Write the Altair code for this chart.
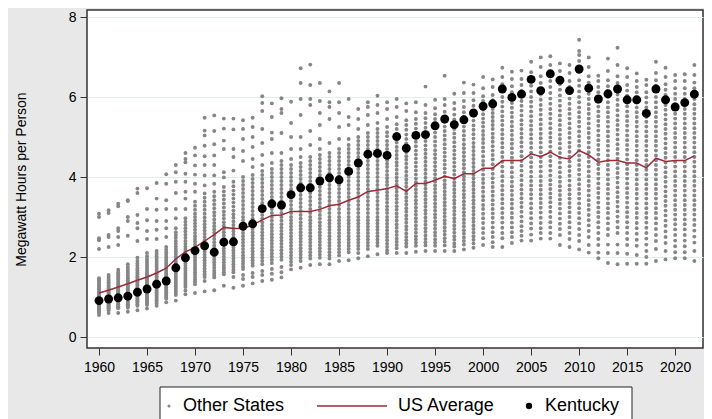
import altair as alt
import pandas as pd

years = list(range(1960, 2023))

kentucky = [0.91, 0.95, 0.98, 1.02, 1.12, 1.2, 1.32, 1.4, 1.73, 1.98,
            2.16, 2.28, 2.12, 2.37, 2.38, 2.77, 2.83, 3.21, 3.33, 3.3,
            3.56, 3.73, 3.73, 3.9, 3.98, 3.93, 4.14, 4.35, 4.57, 4.59,
            4.54, 5.01, 4.72, 5.04, 5.06, 5.28, 5.45, 5.31, 5.43, 5.6,
            5.77, 5.83, 6.2, 5.99, 6.07, 6.44, 6.16, 6.58, 6.42, 6.16,
            6.7, 6.22, 5.95, 6.08, 6.2, 5.93, 5.93, 5.59, 6.2, 5.93,
            5.75, 5.86, 6.07]

us_average = [1.1, 1.17, 1.25, 1.33, 1.42, 1.5, 1.6, 1.72, 1.95, 2.13,
              2.24, 2.4, 2.56, 2.74, 2.71, 2.71, 2.8, 2.93, 3.04, 3.05,
              3.14, 3.14, 3.14, 3.19, 3.28, 3.32, 3.42, 3.5, 3.64, 3.67,
              3.71, 3.78, 3.64, 3.84, 3.84, 3.92, 4.02, 3.96, 4.08, 4.08,
              4.22, 4.22, 4.41, 4.41, 4.41, 4.58, 4.51, 4.62, 4.49, 4.45,
              4.66, 4.55, 4.37, 4.41, 4.41, 4.35, 4.35, 4.23, 4.47, 4.39,
              4.41, 4.41, 4.53]

other_states = [
    [3.08, 3.0, 2.47, 2.42, 2.2, 1.47, 1.42, 1.38, 1.34, 1.3, 1.27, 1.23, 1.2, 1.17, 1.14, 1.1, 1.07, 1.04, 1.01, 0.98, 0.96, 0.93, 0.9, 0.88, 0.85, 0.83, 0.8, 0.78, 0.76, 0.74, 0.72, 0.7, 0.68, 0.66, 0.63, 0.6, 0.55],
    [3.17, 3.1, 2.55, 2.5, 2.25, 1.55, 1.5, 1.45, 1.41, 1.37, 1.33, 1.29, 1.25, 1.22, 1.18, 1.15, 1.12, 1.09, 1.06, 1.03, 1.0, 0.97, 0.94, 0.92, 0.89, 0.87, 0.84, 0.82, 0.79, 0.77, 0.74, 0.72, 0.7, 0.67, 0.6],
    [3.33, 3.27, 2.72, 2.65, 2.5, 2.3, 1.68, 1.62, 1.57, 1.52, 1.47, 1.43, 1.39, 1.35, 1.31, 1.27, 1.24, 1.2, 1.17, 1.14, 1.11, 1.08, 1.05, 1.02, 0.99, 0.96, 0.93, 0.9, 0.88, 0.85, 0.82, 0.8, 0.77, 0.74, 0.72, 0.6],
    [3.42, 3.4, 3.0, 2.9, 2.53, 1.82, 1.75, 1.7, 1.65, 1.6, 1.55, 1.5, 1.46, 1.42, 1.38, 1.34, 1.3, 1.26, 1.22, 1.19, 1.15, 1.12, 1.09, 1.06, 1.03, 1.0, 0.97, 0.94, 0.91, 0.88, 0.85, 0.82, 0.79, 0.76, 0.73, 0.63],
    [3.71, 3.6, 3.05, 2.85, 2.72, 2.4, 1.98, 1.9, 1.84, 1.78, 1.72, 1.67, 1.62, 1.57, 1.52, 1.48, 1.44, 1.4, 1.36, 1.32, 1.28, 1.24, 1.2, 1.17, 1.14, 1.1, 1.07, 1.04, 1.01, 0.98, 0.95, 0.92, 0.89, 0.86, 0.82, 0.78, 0.67],
    [3.72, 3.2, 2.92, 2.65, 2.45, 2.1, 2.02, 1.95, 1.9, 1.85, 1.8, 1.75, 1.7, 1.65, 1.6, 1.56, 1.52, 1.48, 1.44, 1.4, 1.36, 1.32, 1.28, 1.24, 1.2, 1.16, 1.12, 1.08, 1.04, 1.0, 0.97, 0.94, 0.9, 0.87, 0.83, 0.8, 0.71],
    [3.85, 3.46, 3.18, 2.9, 2.68, 2.45, 2.15, 2.08, 2.02, 1.96, 1.9, 1.85, 1.8, 1.75, 1.7, 1.65, 1.6, 1.56, 1.52, 1.48, 1.44, 1.4, 1.36, 1.32, 1.28, 1.24, 1.2, 1.16, 1.12, 1.08, 1.04, 1.0, 0.96, 0.92, 0.88, 0.84, 0.78],
    [4.07, 3.83, 3.42, 3.2, 2.9, 2.72, 2.5, 2.25, 2.18, 2.12, 2.06, 2.0, 1.95, 1.9, 1.85, 1.8, 1.75, 1.7, 1.65, 1.6, 1.56, 1.52, 1.48, 1.44, 1.4, 1.36, 1.32, 1.28, 1.24, 1.2, 1.16, 1.12, 1.08, 1.04, 1.0, 0.96, 0.87],
    [4.3, 4.12, 3.88, 3.6, 3.2, 2.97, 2.72, 2.62, 2.55, 2.48, 2.4, 2.33, 2.26, 2.2, 2.14, 2.08, 2.02, 1.96, 1.9, 1.85, 1.8, 1.75, 1.7, 1.65, 1.6, 1.55, 1.5, 1.45, 1.4, 1.35, 1.3, 1.25, 1.2, 1.15, 1.1, 1.05, 0.91],
    [4.6, 4.45, 4.37, 4.08, 3.88, 3.63, 3.46, 3.2, 2.97, 2.88, 2.8, 2.72, 2.64, 2.56, 2.48, 2.4, 2.33, 2.26, 2.2, 2.14, 2.08, 2.02, 1.96, 1.9, 1.84, 1.78, 1.72, 1.66, 1.6, 1.55, 1.5, 1.45, 1.4, 1.35, 1.3, 1.25, 1.16, 1.07],
    [4.73, 4.54, 4.29, 4.06, 3.83, 3.63, 3.38, 3.28, 3.18, 3.08, 3.0, 2.92, 2.84, 2.76, 2.68, 2.6, 2.52, 2.45, 2.38, 2.31, 2.24, 2.17, 2.1, 2.04, 1.98, 1.92, 1.86, 1.8, 1.74, 1.68, 1.62, 1.56, 1.5, 1.44, 1.38, 1.32, 1.1],
    [5.48, 5.16, 5.04, 4.78, 4.52, 4.3, 4.04, 3.79, 3.59, 3.48, 3.38, 3.28, 3.18, 3.08, 2.99, 2.9, 2.82, 2.74, 2.66, 2.58, 2.5, 2.42, 2.34, 2.27, 2.2, 2.13, 2.06, 1.99, 1.92, 1.85, 1.78, 1.71, 1.64, 1.57, 1.5, 1.4, 1.14],
    [5.54, 5.15, 4.82, 4.54, 4.3, 4.04, 3.83, 3.63, 3.52, 3.42, 3.32, 3.22, 3.12, 3.03, 2.94, 2.85, 2.77, 2.69, 2.61, 2.53, 2.45, 2.37, 2.29, 2.22, 2.15, 2.08, 2.01, 1.94, 1.87, 1.8, 1.73, 1.66, 1.6, 1.55, 1.49, 1.17],
    [5.46, 5.21, 4.91, 4.7, 4.12, 3.99, 3.75, 3.64, 3.54, 3.44, 3.34, 3.24, 3.14, 3.05, 2.96, 2.87, 2.78, 2.7, 2.62, 2.54, 2.46, 2.38, 2.3, 2.22, 2.15, 2.08, 2.01, 1.94, 1.87, 1.8, 1.74, 1.68, 1.62, 1.57, 1.28],
    [5.46, 5.19, 4.7, 4.5, 4.16, 3.88, 3.77, 3.66, 3.56, 3.46, 3.36, 3.26, 3.16, 3.07, 2.98, 2.89, 2.8, 2.72, 2.64, 2.56, 2.48, 2.4, 2.32, 2.24, 2.17, 2.1, 2.03, 1.96, 1.89, 1.82, 1.75, 1.68, 1.62, 1.5, 1.23],
    [5.42, 5.2, 4.95, 4.65, 4.4, 4.0, 3.9, 3.8, 3.7, 3.6, 3.5, 3.4, 3.3, 3.2, 3.1, 3.0, 2.92, 2.84, 2.76, 2.68, 2.6, 2.52, 2.44, 2.36, 2.28, 2.2, 2.12, 2.04, 1.97, 1.9, 1.83, 1.76, 1.7, 1.55, 1.45, 1.28],
    [5.48, 5.25, 5.0, 4.75, 4.45, 4.25, 4.05, 3.95, 3.85, 3.75, 3.65, 3.55, 3.45, 3.35, 3.25, 3.15, 3.05, 2.96, 2.87, 2.78, 2.7, 2.62, 2.54, 2.46, 2.38, 2.3, 2.22, 2.14, 2.06, 1.99, 1.92, 1.85, 1.78, 1.6, 1.5, 1.34],
    [6.02, 5.85, 5.65, 5.2, 4.85, 4.55, 4.3, 4.15, 4.05, 3.95, 3.85, 3.75, 3.65, 3.55, 3.45, 3.35, 3.25, 3.15, 3.05, 2.96, 2.87, 2.78, 2.7, 2.62, 2.54, 2.46, 2.38, 2.3, 2.22, 2.14, 2.06, 1.98, 1.9, 1.82, 1.65, 1.55, 1.4],
    [5.84, 5.5, 5.11, 4.95, 4.6, 4.35, 4.2, 4.1, 4.0, 3.9, 3.8, 3.7, 3.6, 3.5, 3.4, 3.3, 3.2, 3.1, 3.0, 2.91, 2.82, 2.73, 2.65, 2.57, 2.49, 2.41, 2.33, 2.25, 2.17, 2.09, 2.01, 1.93, 1.85, 1.7, 1.58, 1.43],
    [5.97, 5.7, 5.6, 5.1, 4.6, 4.4, 4.3, 4.2, 4.1, 4.0, 3.9, 3.8, 3.7, 3.6, 3.5, 3.4, 3.3, 3.2, 3.1, 3.0, 2.91, 2.82, 2.73, 2.65, 2.57, 2.49, 2.41, 2.33, 2.25, 2.17, 2.09, 2.01, 1.93, 1.75, 1.62, 1.49],
    [5.88, 5.35, 5.0, 4.7, 4.45, 4.3, 4.2, 4.1, 4.0, 3.9, 3.8, 3.7, 3.6, 3.5, 3.4, 3.3, 3.2, 3.1, 3.0, 2.92, 2.84, 2.76, 2.68, 2.6, 2.52, 2.44, 2.36, 2.28, 2.2, 2.12, 2.04, 1.96, 1.88, 1.8, 1.69],
    [6.72, 6.35, 5.95, 5.55, 5.0, 4.7, 4.5, 4.35, 4.25, 4.15, 4.05, 3.95, 3.85, 3.75, 3.65, 3.55, 3.45, 3.35, 3.25, 3.15, 3.05, 2.96, 2.87, 2.78, 2.7, 2.62, 2.54, 2.46, 2.38, 2.3, 2.22, 2.14, 2.06, 1.98, 1.9, 1.73],
    [6.81, 6.3, 5.95, 5.8, 5.15, 4.8, 4.5, 4.4, 4.3, 4.2, 4.1, 4.0, 3.9, 3.8, 3.7, 3.6, 3.5, 3.4, 3.3, 3.2, 3.1, 3.0, 2.92, 2.84, 2.76, 2.68, 2.6, 2.52, 2.44, 2.36, 2.28, 2.2, 2.12, 2.04, 1.96, 1.8],
    [6.35, 5.9, 5.6, 5.3, 4.95, 4.7, 4.55, 4.45, 4.35, 4.25, 4.15, 4.05, 3.95, 3.85, 3.75, 3.65, 3.55, 3.45, 3.35, 3.25, 3.15, 3.05, 2.96, 2.87, 2.78, 2.7, 2.62, 2.54, 2.46, 2.38, 2.3, 2.22, 2.14, 2.06, 1.98, 1.82],
    [6.14, 5.87, 5.75, 5.45, 4.85, 4.6, 4.5, 4.4, 4.3, 4.2, 4.1, 4.0, 3.9, 3.8, 3.7, 3.6, 3.5, 3.4, 3.3, 3.2, 3.1, 3.0, 2.92, 2.84, 2.76, 2.68, 2.6, 2.52, 2.44, 2.36, 2.28, 2.2, 2.12, 2.04, 1.96, 1.82],
    [6.35, 5.87, 5.6, 5.25, 4.95, 4.7, 4.6, 4.5, 4.4, 4.3, 4.2, 4.1, 4.0, 3.9, 3.8, 3.7, 3.6, 3.5, 3.4, 3.3, 3.2, 3.1, 3.0, 2.92, 2.84, 2.76, 2.68, 2.6, 2.52, 2.44, 2.36, 2.28, 2.2, 2.12, 2.04, 1.9],
    [5.95, 5.5, 5.3, 4.95, 4.8, 4.7, 4.6, 4.5, 4.4, 4.3, 4.2, 4.1, 4.0, 3.9, 3.8, 3.7, 3.6, 3.5, 3.4, 3.3, 3.2, 3.1, 3.0, 2.92, 2.84, 2.76, 2.68, 2.6, 2.52, 2.44, 2.36, 2.28, 2.2, 2.12, 1.92],
    [5.7, 5.45, 5.2, 5.0, 4.9, 4.8, 4.7, 4.6, 4.5, 4.4, 4.3, 4.2, 4.1, 4.0, 3.9, 3.8, 3.7, 3.6, 3.5, 3.4, 3.3, 3.2, 3.1, 3.0, 2.92, 2.84, 2.76, 2.68, 2.6, 2.52, 2.44, 2.36, 2.28, 2.2, 2.1, 1.97],
    [5.87, 5.75, 5.55, 5.3, 5.1, 5.0, 4.9, 4.8, 4.7, 4.6, 4.5, 4.4, 4.3, 4.2, 4.1, 4.0, 3.9, 3.8, 3.7, 3.6, 3.5, 3.4, 3.3, 3.2, 3.1, 3.0, 2.92, 2.84, 2.76, 2.68, 2.6, 2.52, 2.44, 2.36, 2.28, 2.2, 2.02],
    [6.03, 5.8, 5.6, 5.35, 5.2, 5.1, 5.0, 4.9, 4.8, 4.7, 4.6, 4.5, 4.4, 4.3, 4.2, 4.1, 4.0, 3.9, 3.8, 3.7, 3.6, 3.5, 3.4, 3.3, 3.2, 3.1, 3.0, 2.92, 2.84, 2.76, 2.68, 2.6, 2.52, 2.44, 2.36, 2.28, 2.07],
    [5.87, 5.7, 5.45, 5.25, 5.12, 5.02, 4.9, 4.8, 4.7, 4.6, 4.5, 4.42, 4.33, 4.25, 4.15, 4.05, 3.97, 3.88, 3.8, 3.7, 3.62, 3.53, 3.45, 3.36, 3.27, 3.18, 3.1, 3.0, 2.92, 2.83, 2.75, 2.67, 2.58, 2.5, 2.42, 2.33, 2.25, 2.17, 2.1],
    [5.95, 5.75, 5.5, 5.32, 5.2, 5.08, 4.97, 4.86, 4.75, 4.65, 4.55, 4.46, 4.37, 4.28, 4.18, 4.08, 3.99, 3.9, 3.81, 3.72, 3.63, 3.54, 3.45, 3.36, 3.27, 3.18, 3.09, 3.0, 2.91, 2.82, 2.73, 2.64, 2.55, 2.46, 2.38, 2.3, 2.22, 2.1],
    [5.84, 5.65, 5.42, 5.3, 5.18, 5.06, 4.95, 4.84, 4.73, 4.62, 4.52, 4.43, 4.33, 4.23, 4.13, 4.03, 3.94, 3.85, 3.76, 3.67, 3.58, 3.49, 3.4, 3.31, 3.22, 3.13, 3.04, 2.95, 2.86, 2.77, 2.68, 2.59, 2.5, 2.42, 2.34, 2.26, 2.1],
    [5.87, 5.62, 5.45, 5.33, 5.21, 5.1, 4.99, 4.88, 4.77, 4.66, 4.56, 4.46, 4.36, 4.26, 4.16, 4.06, 3.96, 3.87, 3.78, 3.69, 3.6, 3.51, 3.42, 3.33, 3.24, 3.15, 3.06, 2.97, 2.88, 2.79, 2.7, 2.61, 2.52, 2.44, 2.36, 2.28, 2.13],
    [6.26, 5.8, 5.6, 5.47, 5.35, 5.23, 5.12, 5.01, 4.9, 4.79, 4.68, 4.58, 4.48, 4.38, 4.28, 4.18, 4.08, 3.98, 3.89, 3.8, 3.71, 3.62, 3.53, 3.44, 3.35, 3.26, 3.17, 3.08, 2.99, 2.9, 2.81, 2.72, 2.63, 2.54, 2.45, 2.37, 2.29, 2.15],
    [5.93, 5.72, 5.57, 5.45, 5.33, 5.22, 5.11, 5.0, 4.89, 4.78, 4.67, 4.57, 4.47, 4.37, 4.27, 4.17, 4.07, 3.97, 3.88, 3.79, 3.7, 3.61, 3.52, 3.43, 3.34, 3.25, 3.16, 3.07, 2.98, 2.89, 2.8, 2.71, 2.62, 2.53, 2.44, 2.36, 2.28, 2.15],
    [6.53, 5.95, 5.8, 5.63, 5.5, 5.38, 5.26, 5.15, 5.04, 4.93, 4.82, 4.71, 4.61, 4.51, 4.41, 4.31, 4.21, 4.11, 4.01, 3.91, 3.82, 3.73, 3.64, 3.55, 3.46, 3.37, 3.28, 3.19, 3.1, 3.01, 2.92, 2.83, 2.74, 2.65, 2.56, 2.47, 2.38, 2.29, 2.15],
    [6.08, 5.85, 5.7, 5.56, 5.44, 5.32, 5.2, 5.09, 4.98, 4.87, 4.76, 4.66, 4.56, 4.46, 4.36, 4.26, 4.16, 4.06, 3.96, 3.87, 3.78, 3.69, 3.6, 3.51, 3.42, 3.33, 3.24, 3.15, 3.06, 2.97, 2.88, 2.79, 2.7, 2.61, 2.52, 2.43, 2.34, 2.26, 2.15],
    [6.36, 6.1, 5.9, 5.75, 5.62, 5.5, 5.38, 5.26, 5.15, 5.04, 4.93, 4.82, 4.72, 4.62, 4.52, 4.42, 4.32, 4.22, 4.12, 4.02, 3.93, 3.84, 3.75, 3.66, 3.57, 3.48, 3.39, 3.3, 3.21, 3.12, 3.03, 2.94, 2.85, 2.76, 2.67, 2.58, 2.49, 2.4, 2.31, 2.19],
    [6.31, 6.1, 5.92, 5.78, 5.65, 5.53, 5.41, 5.29, 5.18, 5.07, 4.96, 4.85, 4.75, 4.65, 4.55, 4.45, 4.35, 4.25, 4.15, 4.05, 3.96, 3.87, 3.78, 3.69, 3.6, 3.51, 3.42, 3.33, 3.24, 3.15, 3.06, 2.97, 2.88, 2.79, 2.7, 2.61, 2.52, 2.43, 2.34, 2.23],
    [6.5, 6.22, 6.02, 5.9, 5.8, 5.68, 5.57, 5.46, 5.36, 5.26, 5.15, 5.05, 4.95, 4.85, 4.74, 4.64, 4.52, 4.4, 4.3, 4.18, 4.06, 3.95, 3.85, 3.74, 3.63, 3.52, 3.42, 3.3, 3.2, 3.08, 2.97, 2.85, 2.72, 2.6, 2.47, 2.3],
    [6.44, 6.25, 6.05, 5.92, 5.82, 5.7, 5.6, 5.5, 5.4, 5.3, 5.2, 5.08, 4.98, 4.88, 4.77, 4.66, 4.55, 4.44, 4.32, 4.2, 4.08, 3.97, 3.86, 3.75, 3.64, 3.53, 3.42, 3.31, 3.2, 3.09, 2.98, 2.86, 2.74, 2.62, 2.5, 2.37, 2.25],
    [6.73, 6.5, 6.32, 6.15, 6.0, 5.88, 5.76, 5.64, 5.52, 5.41, 5.3, 5.18, 5.07, 4.96, 4.85, 4.74, 4.62, 4.5, 4.38, 4.26, 4.14, 4.02, 3.9, 3.78, 3.67, 3.56, 3.45, 3.34, 3.22, 3.1, 2.98, 2.86, 2.73, 2.6, 2.47, 2.25],
    [6.63, 6.45, 6.27, 6.12, 5.98, 5.85, 5.73, 5.61, 5.5, 5.38, 5.27, 5.16, 5.05, 4.94, 4.83, 4.72, 4.6, 4.48, 4.36, 4.24, 4.12, 4.0, 3.88, 3.77, 3.66, 3.55, 3.44, 3.33, 3.22, 3.1, 2.98, 2.86, 2.74, 2.62, 2.5, 2.35],
    [6.66, 6.45, 6.3, 6.16, 6.02, 5.9, 5.78, 5.66, 5.54, 5.42, 5.31, 5.2, 5.09, 4.98, 4.87, 4.76, 4.64, 4.52, 4.4, 4.28, 4.16, 4.04, 3.92, 3.8, 3.69, 3.58, 3.47, 3.36, 3.25, 3.13, 3.01, 2.89, 2.77, 2.65, 2.53, 2.41],
    [6.88, 6.62, 6.42, 6.28, 6.14, 6.0, 5.88, 5.76, 5.64, 5.52, 5.4, 5.29, 5.18, 5.07, 4.96, 4.85, 4.73, 4.61, 4.49, 4.37, 4.25, 4.13, 4.01, 3.9, 3.79, 3.68, 3.57, 3.46, 3.34, 3.22, 3.1, 2.97, 2.84, 2.71, 2.56, 2.41],
    [6.99, 6.75, 6.52, 6.35, 6.2, 6.06, 5.93, 5.8, 5.68, 5.56, 5.44, 5.32, 5.2, 5.08, 4.97, 4.86, 4.74, 4.62, 4.5, 4.38, 4.26, 4.14, 4.02, 3.9, 3.79, 3.68, 3.57, 3.46, 3.35, 3.23, 3.11, 2.98, 2.85, 2.72, 2.6, 2.46],
    [7.02, 6.8, 6.56, 6.4, 6.25, 6.1, 5.96, 5.83, 5.7, 5.58, 5.46, 5.34, 5.22, 5.1, 4.99, 4.88, 4.76, 4.64, 4.52, 4.4, 4.28, 4.16, 4.04, 3.92, 3.81, 3.7, 3.59, 3.48, 3.37, 3.25, 3.13, 3.0, 2.87, 2.74, 2.6, 2.46],
    [6.84, 6.65, 6.47, 6.32, 6.18, 6.04, 5.91, 5.78, 5.66, 5.54, 5.42, 5.3, 5.18, 5.06, 4.95, 4.84, 4.72, 4.6, 4.48, 4.36, 4.24, 4.12, 4.0, 3.88, 3.77, 3.66, 3.55, 3.44, 3.33, 3.21, 3.09, 2.96, 2.83, 2.7, 2.55, 2.3],
    [6.8, 6.6, 6.4, 6.25, 6.1, 5.96, 5.83, 5.7, 5.58, 5.46, 5.34, 5.22, 5.1, 4.98, 4.86, 4.75, 4.63, 4.51, 4.39, 4.27, 4.15, 4.03, 3.91, 3.79, 3.68, 3.57, 3.46, 3.35, 3.24, 3.12, 3.0, 2.87, 2.74, 2.6, 2.45, 2.25],
    [7.43, 7.15, 7.05, 6.9, 6.62, 6.42, 6.28, 6.14, 6.0, 5.87, 5.74, 5.62, 5.5, 5.38, 5.26, 5.14, 5.02, 4.9, 4.78, 4.66, 4.54, 4.42, 4.3, 4.18, 4.06, 3.94, 3.82, 3.7, 3.58, 3.46, 3.34, 3.22, 3.1, 2.97, 2.84, 2.7, 2.55, 2.4, 2.19],
    [6.99, 6.75, 6.52, 6.36, 6.22, 6.08, 5.95, 5.82, 5.7, 5.58, 5.46, 5.34, 5.22, 5.1, 4.98, 4.86, 4.74, 4.62, 4.5, 4.38, 4.26, 4.14, 4.02, 3.9, 3.78, 3.66, 3.54, 3.42, 3.3, 3.18, 3.05, 2.92, 2.79, 2.65, 2.5, 2.3, 2.11],
    [6.53, 6.4, 6.25, 6.12, 6.0, 5.88, 5.76, 5.64, 5.52, 5.4, 5.28, 5.16, 5.04, 4.92, 4.8, 4.68, 4.56, 4.44, 4.32, 4.2, 4.08, 3.96, 3.84, 3.72, 3.6, 3.48, 3.36, 3.24, 3.12, 3.0, 2.87, 2.74, 2.6, 2.45, 2.3, 2.11, 1.97],
    [6.96, 6.65, 6.42, 6.27, 6.13, 6.0, 5.87, 5.74, 5.62, 5.5, 5.38, 5.26, 5.14, 5.02, 4.9, 4.78, 4.66, 4.54, 4.42, 4.3, 4.18, 4.06, 3.94, 3.82, 3.7, 3.58, 3.46, 3.34, 3.22, 3.1, 2.97, 2.84, 2.7, 2.55, 2.31, 2.1, 1.85],
    [7.23, 6.8, 6.52, 6.35, 6.2, 6.06, 5.93, 5.8, 5.67, 5.54, 5.42, 5.3, 5.18, 5.06, 4.94, 4.82, 4.7, 4.58, 4.46, 4.34, 4.22, 4.1, 3.98, 3.86, 3.74, 3.62, 3.5, 3.38, 3.26, 3.14, 3.01, 2.88, 2.74, 2.6, 2.31, 2.1, 1.82],
    [6.72, 6.5, 6.3, 6.16, 6.03, 5.9, 5.77, 5.64, 5.52, 5.4, 5.28, 5.16, 5.04, 4.92, 4.8, 4.68, 4.56, 4.44, 4.32, 4.2, 4.08, 3.96, 3.84, 3.72, 3.6, 3.48, 3.36, 3.24, 3.12, 3.0, 2.87, 2.74, 2.6, 2.45, 2.3, 2.08, 1.83],
    [6.59, 6.4, 6.25, 6.12, 5.99, 5.86, 5.74, 5.62, 5.5, 5.38, 5.26, 5.14, 5.02, 4.9, 4.78, 4.66, 4.54, 4.42, 4.3, 4.18, 4.06, 3.94, 3.82, 3.7, 3.58, 3.46, 3.34, 3.22, 3.1, 2.98, 2.85, 2.72, 2.58, 2.43, 2.28, 2.05, 1.83],
    [6.43, 6.3, 6.12, 5.99, 5.86, 5.74, 5.62, 5.5, 5.38, 5.26, 5.14, 5.02, 4.9, 4.78, 4.66, 4.54, 4.42, 4.3, 4.18, 4.06, 3.94, 3.82, 3.7, 3.58, 3.46, 3.34, 3.22, 3.1, 2.98, 2.86, 2.73, 2.6, 2.46, 2.31, 2.15, 2.0, 1.83],
    [6.88, 6.6, 6.42, 6.28, 6.14, 6.0, 5.87, 5.74, 5.62, 5.5, 5.38, 5.26, 5.14, 5.02, 4.9, 4.78, 4.66, 4.54, 4.42, 4.3, 4.18, 4.06, 3.94, 3.82, 3.7, 3.58, 3.46, 3.34, 3.22, 3.1, 2.97, 2.84, 2.7, 2.55, 2.4, 2.2, 1.9],
    [6.73, 6.5, 6.32, 6.18, 6.05, 5.92, 5.8, 5.68, 5.56, 5.44, 5.32, 5.2, 5.08, 4.96, 4.84, 4.72, 4.6, 4.48, 4.36, 4.24, 4.12, 4.0, 3.88, 3.76, 3.64, 3.52, 3.4, 3.28, 3.16, 3.04, 2.91, 2.78, 2.64, 2.5, 2.35, 2.15, 1.94],
    [6.55, 6.4, 6.22, 6.08, 5.95, 5.82, 5.7, 5.58, 5.46, 5.34, 5.22, 5.1, 4.98, 4.86, 4.74, 4.62, 4.5, 4.38, 4.26, 4.14, 4.02, 3.9, 3.78, 3.66, 3.54, 3.42, 3.3, 3.18, 3.06, 2.94, 2.82, 2.69, 2.55, 2.41, 2.27, 2.12, 1.97],
    [6.57, 6.4, 6.22, 6.08, 5.95, 5.82, 5.7, 5.58, 5.46, 5.34, 5.22, 5.1, 4.98, 4.86, 4.74, 4.62, 4.5, 4.38, 4.26, 4.14, 4.02, 3.9, 3.78, 3.66, 3.54, 3.42, 3.3, 3.18, 3.06, 2.94, 2.82, 2.69, 2.55, 2.41, 2.27, 2.12, 1.97],
    [6.8, 6.55, 6.36, 6.22, 6.08, 5.95, 5.82, 5.7, 5.58, 5.46, 5.34, 5.22, 5.1, 4.98, 4.86, 4.74, 4.62, 4.5, 4.38, 4.26, 4.14, 4.02, 3.9, 3.78, 3.66, 3.54, 3.42, 3.3, 3.18, 3.06, 2.93, 2.8, 2.66, 2.51, 2.36, 2.15, 1.9],
]

series_names = ["Other States", "US Average", "Kentucky"]
series_colors = ["#868686", "#9e2a36", "#000000"]

rows = []
for yr, vals in zip(years, other_states):
    for v in vals:
        rows.append({"year": yr, "value": v, "series": series_names[0]})
for yr, v in zip(years, us_average):
    rows.append({"year": yr, "value": v, "series": series_names[1]})
for yr, v in zip(years, kentucky):
    rows.append({"year": yr, "value": v, "series": series_names[2]})
df = pd.DataFrame(rows)

FONT = "Liberation Sans"


def make_legend(x, y, size, stype, label_offset, stroke_width=0):
    return alt.Legend(
        title=None, orient="none", legendX=x, legendY=y, direction="horizontal",
        labelFont=FONT, labelFontSize=18, labelColor="#000000",
        labelOffset=label_offset, padding=0, symbolSize=size, symbolType=stype,
        symbolStrokeWidth=stroke_width, symbolOpacity=1,
    )


x_enc = alt.X("year:Q",
              scale=alt.Scale(domain=[1958.75, 2022.9], nice=False, zero=False),
              axis=alt.Axis(values=list(range(1960, 2021, 5)), format="d", title=None,
                            grid=False, domain=False, tickSize=7, tickColor="#333333",
                            labelPadding=5, labelFont=FONT, labelFontSize=14,
                            labelColor="#000000"))
y_enc = alt.Y("value:Q",
              scale=alt.Scale(domain=[-0.275, 8.175], nice=False, zero=False),
              axis=alt.Axis(values=[0, 2, 4, 6, 8], title="Megawatt Hours per Person",
                            grid=True, gridColor="#e3edf0", domain=False, tickSize=7,
                            tickColor="#333333", labelPadding=4, labelFont=FONT,
                            labelFontSize=14, labelColor="#000000", titleFont=FONT,
                            titleFontSize=14, titleFontWeight="normal",
                            titleColor="#000000", titlePadding=40))

base = alt.Chart(df)

# legend frame (pixel placement of the legend box, like legendX / legendY)
frame = alt.Chart(pd.DataFrame({"k": [0]})).mark_rect(
    fill="#ffffff", stroke="#222222", strokeWidth=1
).encode(
    x=alt.value(73), x2=alt.value(545), y=alt.value(377), y2=alt.value(440)
)

others = base.transform_filter(alt.datum.series == series_names[0]).mark_point(
    filled=True, opacity=1, strokeWidth=0, size=15
).encode(
    x=x_enc, y=y_enc,
    color=alt.Color("series:N",
                    scale=alt.Scale(domain=[series_names[0]], range=[series_colors[0]]),
                    legend=make_legend(73, 387, 10, "circle", 5)),
)

avg = base.transform_filter(alt.datum.series == series_names[1]).mark_line(
    strokeWidth=1.5
).encode(
    x=x_enc, y=y_enc,
    stroke=alt.Stroke("series:N",
                      scale=alt.Scale(domain=[series_names[1]], range=[series_colors[1]]),
                      legend=make_legend(229, 360, 4900, "stroke", 10, 1.5)),
)

ky = base.transform_filter(alt.datum.series == series_names[2]).mark_point(
    filled=True, opacity=1, strokeWidth=0, size=80
).encode(
    x=x_enc, y=y_enc,
    fill=alt.Fill("series:N",
                  scale=alt.Scale(domain=[series_names[2]], range=[series_colors[2]]),
                  legend=make_legend(433, 387, 40, "circle", 7)),
)

chart = alt.layer(frame, others, avg, ky).resolve_scale(
    color="independent", stroke="independent", fill="independent"
).properties(
    width=616, height=338,
    autosize=alt.AutoSizeParams(type="none"),
    padding={"left": 79, "top": 2, "right": 1, "bottom": 71},
    background="#e8e8e8",
).configure_view(
    fill="#ffffff", stroke="#333333", strokeWidth=1.5
)

chart.save("out.html", embed_options={"renderer": "svg", "actions": False})
